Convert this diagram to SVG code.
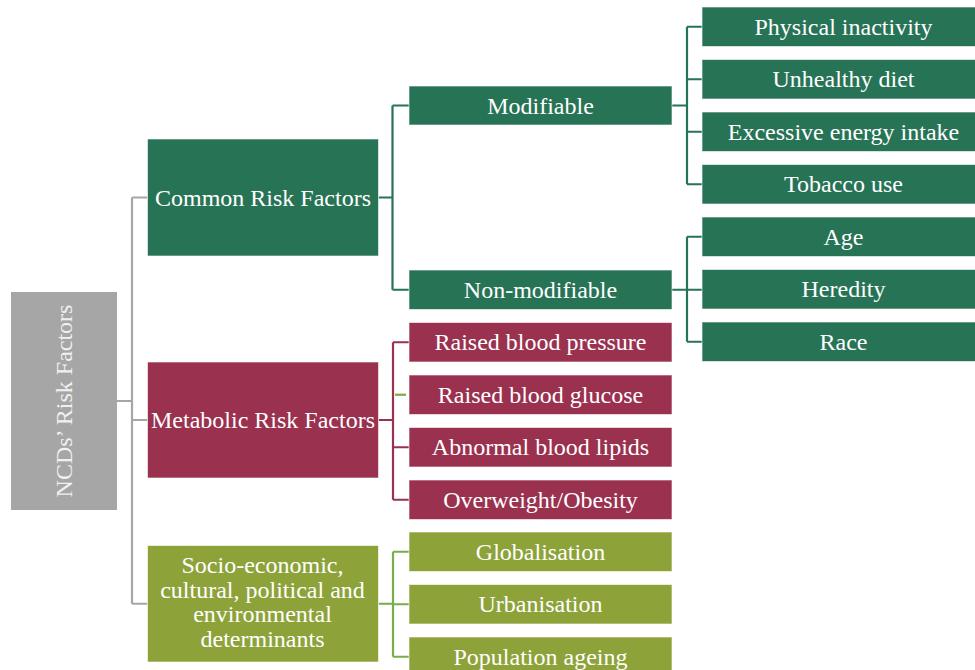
<svg xmlns="http://www.w3.org/2000/svg" width="975" height="670" viewBox="0 0 975 670">
  <style>
    .box { stroke: #ffffff; stroke-opacity: 0.6; stroke-width: 1; }
    .g { fill: #277356; }
    .m { fill: #9a314f; }
    .o { fill: #8da33a; }
    .root { fill: #a6a6a6; }
    .lbl { font-family: "Liberation Serif", "Times New Roman", serif; font-size: 24px; fill: #ffffff; text-anchor: middle; }
    .conn { fill: none; stroke-width: 2.2; }
    .cg { stroke: #a6a6a6; }
    .cgr { stroke: #277356; }
    .cm { stroke: #9a314f; }
    .co { stroke: #77ad4b; }
  </style>
  <rect width="975" height="670" fill="#ffffff"/>

  <!-- connectors -->
  <g id="connectors">
    <!-- root to level 1 -->
    <path class="conn cg" d="M117 401 H132 M132 197.5 V603.75 M132 197.5 H147.5 M132 420 H147.5 M132 603.75 H147.5"/>
    <!-- common risk factors -->
    <path class="conn cgr" d="M378.5 197.5 H392.5 M392.5 105.5 V289.75 M392.5 105.5 H409 M392.5 289.75 H409"/>
    <!-- modifiable -->
    <path class="conn cgr" d="M672 105.5 H687 M687 26.75 V184.25 M687 26.75 H702 M687 79.25 H702 M687 131.75 H702 M687 184.25 H702"/>
    <!-- non-modifiable -->
    <path class="conn cgr" d="M672 289.75 H687 M687 236.75 V341.75 M687 236.75 H702 M687 289.75 H702 M687 341.75 H702"/>
    <!-- metabolic -->
    <path class="conn cm" d="M378.5 420 H393 M393 342.25 V499.75 M393 342.25 H409 M393 447.25 H409 M393 499.75 H409"/>
    <path class="conn co" d="M395 394.75 H406"/>
    <!-- socio-economic -->
    <path class="conn co" d="M378.5 603.75 H393 M393 551.75 V656.75 M393 551.75 H409 M393 604.25 H409 M393 656.75 H409"/>
  </g>

  <!-- root -->
  <g id="root">
    <rect class="root" x="11" y="292" width="106" height="218"/>
    <text class="lbl" style="fill:#f0f0f0" transform="translate(72,401) rotate(-90)" x="0" y="0">NCDs’ Risk Factors</text>
  </g>

  <!-- level 1 -->
  <g id="common">
    <rect class="box g" x="147.5" y="139" width="231" height="117"/>
    <text class="lbl" x="263" y="205.5">Common Risk Factors</text>
  </g>
  <g id="metabolic">
    <rect class="box m" x="147.5" y="362" width="231" height="116"/>
    <text class="lbl" x="263" y="428">Metabolic Risk Factors</text>
  </g>
  <g id="socio">
    <rect class="box o" x="147.5" y="545.5" width="231" height="116.5"/>
    <text class="lbl" x="262.5" y="573">Socio-economic,</text>
    <text class="lbl" x="262.5" y="597.5">cultural, political and</text>
    <text class="lbl" x="262.5" y="622">environmental</text>
    <text class="lbl" x="262.5" y="646.5">determinants</text>
  </g>

  <!-- level 2 -->
  <g id="modifiable">
    <rect class="box g" x="409" y="86" width="263" height="39"/>
    <text class="lbl" x="540.5" y="113.5">Modifiable</text>
  </g>
  <g id="non-modifiable">
    <rect class="box g" x="409" y="270" width="263" height="39.5"/>
    <text class="lbl" x="540.5" y="297.75">Non-modifiable</text>
  </g>
  <g id="bp">
    <rect class="box m" x="409" y="322.5" width="263" height="39.5"/>
    <text class="lbl" x="540.5" y="350.25">Raised blood pressure</text>
  </g>
  <g id="glucose">
    <rect class="box m" x="409" y="375" width="263" height="39.5"/>
    <text class="lbl" x="540.5" y="402.75">Raised blood glucose</text>
  </g>
  <g id="lipids">
    <rect class="box m" x="409" y="427.5" width="263" height="39.5"/>
    <text class="lbl" x="540.5" y="455.25">Abnormal blood lipids</text>
  </g>
  <g id="obesity">
    <rect class="box m" x="409" y="480" width="263" height="39.5"/>
    <text class="lbl" x="540.5" y="507.75">Overweight/Obesity</text>
  </g>
  <g id="globalisation">
    <rect class="box o" x="409" y="532" width="263" height="39.5"/>
    <text class="lbl" x="540.5" y="559.75">Globalisation</text>
  </g>
  <g id="urbanisation">
    <rect class="box o" x="409" y="584.5" width="263" height="39.5"/>
    <text class="lbl" x="540.5" y="612.25">Urbanisation</text>
  </g>
  <g id="ageing">
    <rect class="box o" x="409" y="637" width="263" height="39.5"/>
    <text class="lbl" x="540.5" y="664.75">Population ageing</text>
  </g>

  <!-- level 3 -->
  <g id="inactivity">
    <rect class="box g" x="702" y="7" width="283" height="39.5"/>
    <text class="lbl" x="843.5" y="34.75">Physical inactivity</text>
  </g>
  <g id="diet">
    <rect class="box g" x="702" y="59.5" width="283" height="39.5"/>
    <text class="lbl" x="843.5" y="87.25">Unhealthy diet</text>
  </g>
  <g id="energy">
    <rect class="box g" x="702" y="112" width="283" height="39.5"/>
    <text class="lbl" x="843.5" y="139.75">Excessive energy intake</text>
  </g>
  <g id="tobacco">
    <rect class="box g" x="702" y="164.5" width="283" height="39.5"/>
    <text class="lbl" x="843.5" y="192.25">Tobacco use</text>
  </g>
  <g id="age">
    <rect class="box g" x="702" y="217" width="283" height="39.5"/>
    <text class="lbl" x="843.5" y="244.75">Age</text>
  </g>
  <g id="heredity">
    <rect class="box g" x="702" y="269.5" width="283" height="39.5"/>
    <text class="lbl" x="843.5" y="297.25">Heredity</text>
  </g>
  <g id="race">
    <rect class="box g" x="702" y="322" width="283" height="39.5"/>
    <text class="lbl" x="843.5" y="349.75">Race</text>
  </g>
</svg>
